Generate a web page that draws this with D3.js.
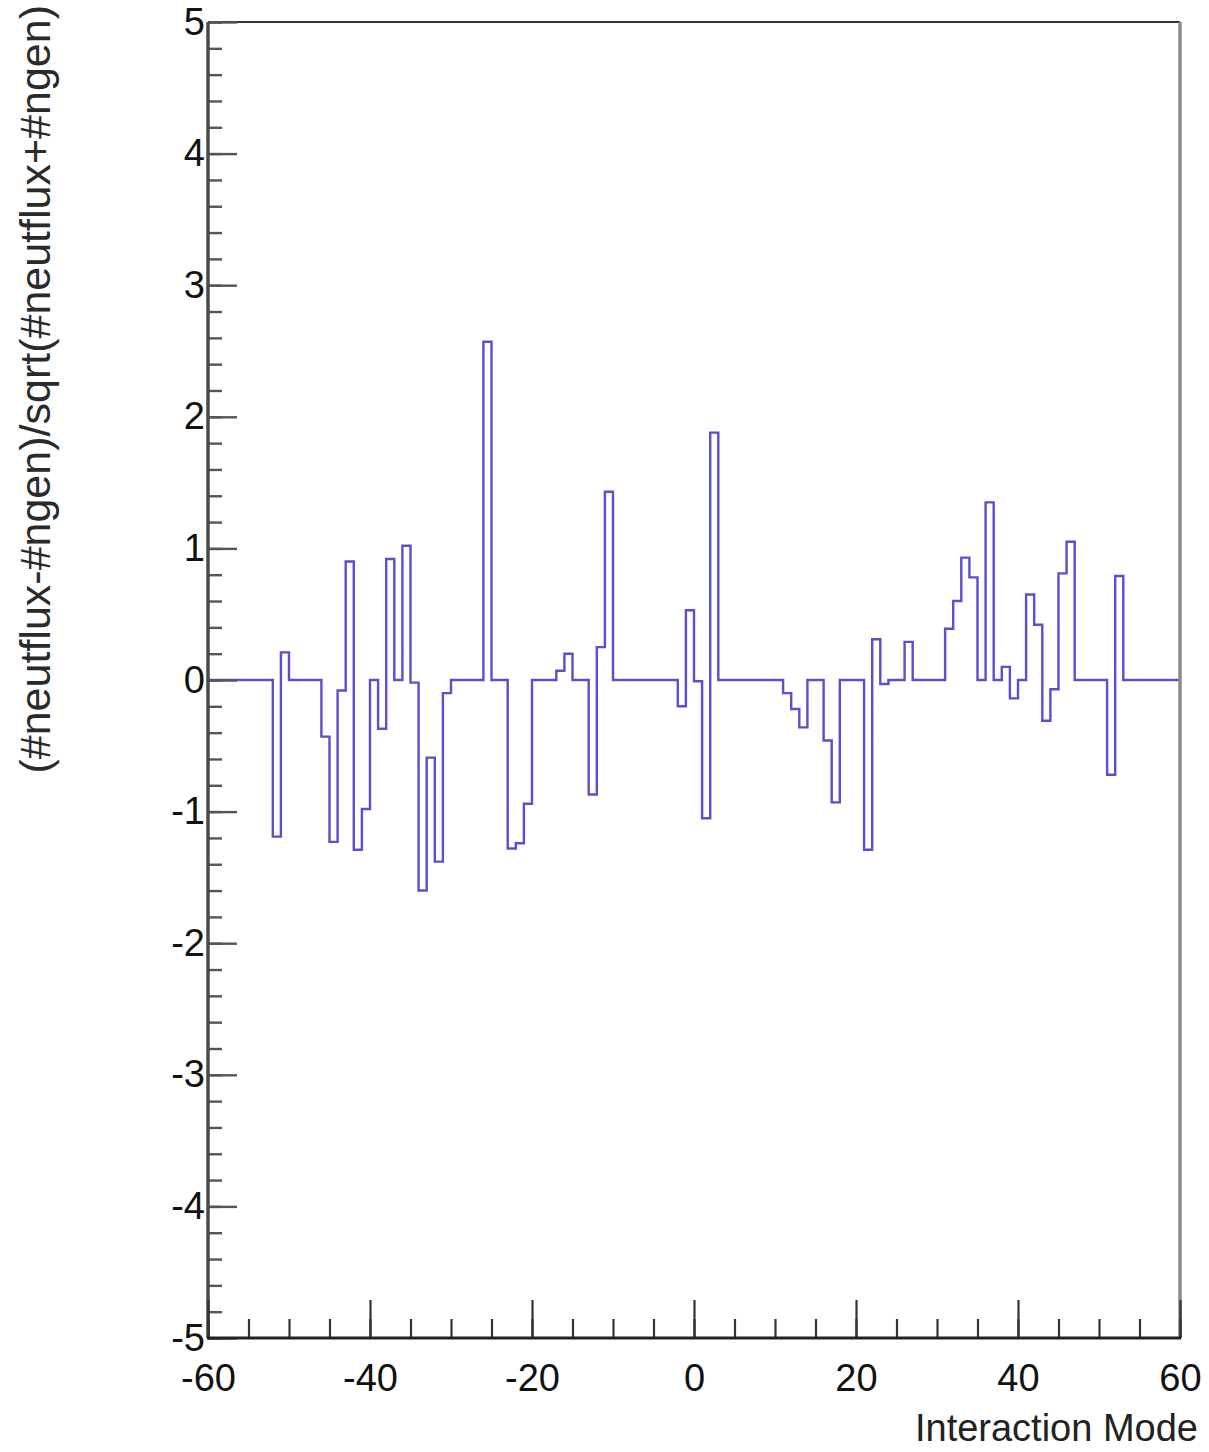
<!DOCTYPE html>
<html>
<head>
<meta charset="utf-8">
<script src="https://cdn.jsdelivr.net/npm/d3@7"></script>
<style>
  body { margin: 0; background: #fff; }
  svg text { font-family: "Liberation Sans", Arial, Helvetica, sans-serif; }
</style>
</head>
<body>
<svg id="chart" width="1209" height="1452"></svg>
<script>
// Histogram of (#neutflux-#ngen)/sqrt(#neutflux+#ngen) per interaction mode.
const binStart = -60;   // lower edge of the first bin
const binWidth = 1;     // unit-width bins, one per interaction mode
const deviation = [
  // -60 .. -51
  0, 0, 0, 0, 0, 0, 0, 0, -1.19, 0.21,
  // -50 .. -41
  0, 0, 0, 0, -0.43, -1.23, -0.08, 0.90, -1.29, -0.98,
  // -40 .. -31
  0, -0.37, 0.92, 0, 1.02, -0.02, -1.60, -0.59, -1.38, -0.10,
  // -30 .. -21
  0, 0, 0, 0, 2.57, 0, 0, -1.28, -1.24, -0.94,
  // -20 .. -11
  0, 0, 0, 0.07, 0.20, 0, 0, -0.87, 0.25, 1.43,
  // -10 .. -1
  0, 0, 0, 0, 0, 0, 0, 0, -0.20, 0.53,
  // 0 .. 9
  -0.01, -1.05, 1.88, 0, 0, 0, 0, 0, 0, 0,
  // 10 .. 19
  0, -0.10, -0.22, -0.36, 0, 0, -0.46, -0.93, 0, 0,
  // 20 .. 29
  0, -1.29, 0.31, -0.03, 0, 0, 0.29, 0, 0, 0,
  // 30 .. 39
  0, 0.39, 0.60, 0.93, 0.78, 0, 1.35, 0, 0.10, -0.14,
  // 40 .. 49
  0, 0.65, 0.42, -0.31, -0.07, 0.81, 1.05, 0, 0, 0,
  // 50 .. 59
  0, -0.72, 0.79, 0, 0, 0, 0, 0, 0, 0
];
const xTickLabels = [-60, -40, -20, 0, 20, 40, 60];
const yTickLabels = [-5, -4, -3, -2, -1, 0, 1, 2, 3, 4, 5];
const xDomain = [-60, 60];
const yDomain = [-5, 5];
const xTitle = "Interaction Mode";
const yTitle = "(#neutflux-#ngen)/sqrt(#neutflux+#ngen)";

const svg = d3.select("#chart");
const frame = { left: 208, right: 1180, top: 22, bottom: 1338 };

const x = d3.scaleLinear().domain(xDomain).range([frame.left, frame.right]);
const y = d3.scaleLinear().domain(yDomain).range([frame.bottom, frame.top]);

svg.append("defs").append("clipPath").attr("id", "plotClip")
  .append("rect")
  .attr("x", frame.left).attr("y", frame.top)
  .attr("width", frame.right - frame.left)
  .attr("height", frame.bottom - frame.top);

// step outline of the histogram
const steps = deviation.map((v, i) => [binStart + i * binWidth, v]);
steps.push([binStart + deviation.length * binWidth, deviation[deviation.length - 1]]);

svg.append("path")
  .attr("clip-path", "url(#plotClip)")
  .attr("d", d3.line().x(d => x(d[0])).y(d => y(d[1])).curve(d3.curveStepAfter)(steps))
  .attr("fill", "none")
  .attr("stroke", "#5a4fcf")
  .attr("stroke-width", 2.4)
  .attr("stroke-linejoin", "miter");

// frame: top and right edges
svg.append("line")
  .attr("x1", frame.left).attr("x2", frame.right)
  .attr("y1", frame.top).attr("y2", frame.top)
  .attr("stroke", "#333").attr("stroke-width", 2);
svg.append("line")
  .attr("x1", frame.right).attr("x2", frame.right)
  .attr("y1", frame.top).attr("y2", frame.bottom)
  .attr("stroke", "#8a8a8a").attr("stroke-width", 3.5);

// y axis: minor ticks every 0.2, major ticks with labels
const yMinor = svg.append("g").attr("transform", `translate(${frame.left},0)`)
  .call(d3.axisLeft(y).ticks(50).tickSize(-14).tickFormat(""));
const yMajor = svg.append("g").attr("transform", `translate(${frame.left},0)`)
  .call(d3.axisLeft(y).tickValues(yTickLabels).tickSize(-29).tickPadding(3)
    .tickFormat(d => String(d)));
[yMinor, yMajor].forEach(g => {
  g.select(".domain").remove();
  g.selectAll(".tick line").attr("stroke", "#555").attr("stroke-width", 2.4);
});
yMajor.selectAll(".tick text")
  .attr("fill", "#111")
  .style("font-size", "38px");
svg.append("line")
  .attr("x1", frame.left).attr("x2", frame.left)
  .attr("y1", frame.top).attr("y2", frame.bottom)
  .attr("stroke", "#4a4a4a").attr("stroke-width", 3.5);

// x axis: minor ticks every 5, major ticks every 20
const xMinor = svg.append("g").attr("transform", `translate(0,${frame.bottom})`)
  .call(d3.axisBottom(x).ticks(24).tickSize(-19).tickFormat(""));
const xMajor = svg.append("g").attr("transform", `translate(0,${frame.bottom})`)
  .call(d3.axisBottom(x).tickValues(xTickLabels).tickSize(-38).tickPadding(26)
    .tickFormat(d => String(d)));
[xMinor, xMajor].forEach(g => {
  g.select(".domain").remove();
  g.selectAll(".tick line").attr("stroke", "#333").attr("stroke-width", 2.2);
});
xMajor.selectAll(".tick text")
  .attr("fill", "#111")
  .style("font-size", "38px");
svg.append("line")
  .attr("x1", frame.left - 1).attr("x2", frame.right + 1)
  .attr("y1", frame.bottom).attr("y2", frame.bottom)
  .attr("stroke", "#222").attr("stroke-width", 3);

// axis titles
svg.append("text")
  .attr("x", 1198).attr("y", 1441)
  .attr("text-anchor", "end")
  .attr("fill", "#222")
  .style("font-size", "38px")
  .text(xTitle);

svg.append("text")
  .attr("transform", "translate(50,5) rotate(-90)")
  .attr("text-anchor", "end")
  .attr("fill", "#2a2a2a")
  .style("font-size", "43px")
  .text(yTitle);
</script>
</body>
</html>
